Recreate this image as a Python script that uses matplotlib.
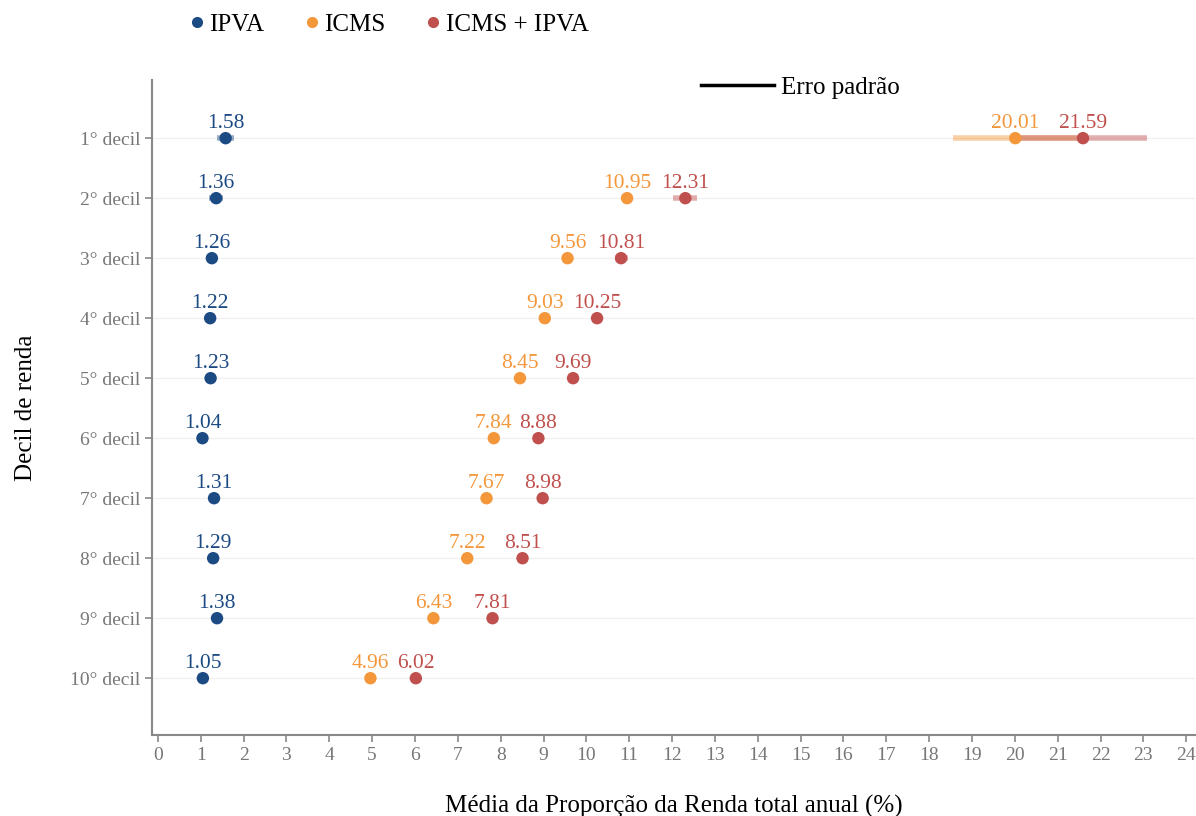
import numpy as np
import matplotlib.pyplot as plt
from matplotlib.lines import Line2D

plt.rcParams['font.family'] = ['Liberation Serif', 'DejaVu Serif']

# Data
deciles = ['1° decil', '2° decil', '3° decil', '4° decil', '5° decil',
           '6° decil', '7° decil', '8° decil', '9° decil', '10° decil']
ipva = [1.58, 1.36, 1.26, 1.22, 1.23, 1.04, 1.31, 1.29, 1.38, 1.05]
icms = [20.01, 10.95, 9.56, 9.03, 8.45, 7.84, 7.67, 7.22, 6.43, 4.96]
icms_ipva = [21.59, 12.31, 10.81, 10.25, 9.69, 8.88, 8.98, 8.51, 7.81, 6.02]
# standard errors
se_ipva = [0.2, 0.17, 0.05, 0.04, 0.04, 0.03, 0.05, 0.04, 0.05, 0.03]
se_icms = [1.46, 0.12, 0.08, 0.06, 0.05, 0.04, 0.05, 0.04, 0.04, 0.03]
se_icms_ipva = [1.5, 0.28, 0.15, 0.07, 0.06, 0.05, 0.06, 0.05, 0.05, 0.04]

blue = '#1c4a83'
orange = '#f4973b'
red = '#c0504d'

series = [
    ('IPVA', ipva, se_ipva, blue),
    ('ICMS', icms, se_icms, orange),
    ('ICMS + IPVA', icms_ipva, se_icms_ipva, red),
]

fig, ax = plt.subplots(figsize=(11.96, 8.16), dpi=100)
fig.subplots_adjust(left=0.127, right=0.999, top=0.902, bottom=0.099)

y = np.arange(1, len(deciles) + 1)

for yy in y:
    ax.axhline(yy, color='#f0f0f0', lw=1, zorder=0)

for name, vals, se, col in series:
    vals = np.array(vals)
    se = np.array(se)
    ax.hlines(y, vals - se, vals + se, color=col, alpha=0.45, lw=4, zorder=2)
    ax.scatter(vals, y, s=80, color=col, zorder=3, edgecolors='none')
    for v, yy in zip(vals, y):
        ax.text(v, yy - 0.17, f'{v:.2f}', color=col, fontsize=15.5,
                ha='center', va='baseline', zorder=4)

ax.set_xlim(-0.14, 24.2)
ax.set_ylim(10.95, 0.03)
ax.set_xticks(range(0, 25))
ax.set_yticks(y)
ax.set_yticklabels(deciles)
ax.tick_params(axis='both', colors='#888888', labelcolor='#777777',
               labelsize=14, length=5, width=1.2)
for s in ['top', 'right']:
    ax.spines[s].set_visible(False)
for s in ['left', 'bottom']:
    ax.spines[s].set_color('#888888')
    ax.spines[s].set_linewidth(1.5)

ax.set_xlabel('Média da Proporção da Renda total anual (%)', fontsize=18,
              labelpad=22)
ax.set_ylabel('Decil de renda', fontsize=18, labelpad=24)

handles = [Line2D([], [], marker='o', ls='none', color=c, markersize=7)
           for _, _, _, c in series]
fig.legend(handles, [n for n, _, _, _ in series], loc='upper left',
           bbox_to_anchor=(0.1395, 1.011), ncol=3, frameon=False, fontsize=18,
           handlelength=0.6, handletextpad=0.2, columnspacing=1.6)

err_handle = [Line2D([], [], color='black', lw=2.5)]
ax.legend(err_handle, ['Erro padrão'], loc='upper left',
          bbox_to_anchor=(0.505, 1.04), frameon=False, fontsize=18,
          handlelength=2.9, handletextpad=0.3)

fig.savefig('out.png', dpi=100)
